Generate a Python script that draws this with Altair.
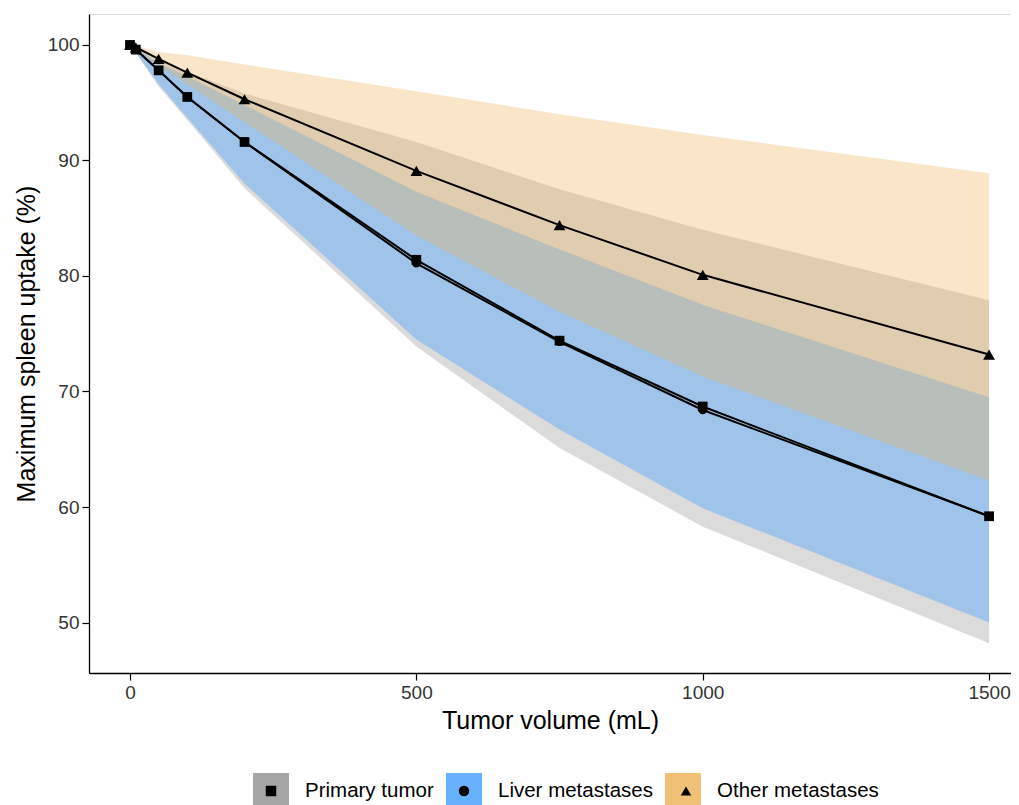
import altair as alt
import pandas as pd

groups = ["Primary tumor", "Liver metastases", "Other metastases"]
fill_colors = ["#909090", "#409FFF", "#ECB054"]
fill_opacity = [0.32, 0.38, 0.32]
shapes = ["square", "circle", "triangle-up"]
marker_sizes = [95, 72, 140]

volume = [0, 10, 50, 100, 200, 500, 750, 1000, 1500]
primary_mean = [100, 99.6, 97.8, 95.5, 91.6, 81.4, 74.4, 68.7, 59.2]
liver_mean = [100, 99.6, 97.8, 95.5, 91.6, 81.1, 74.3, 68.4, 59.2]
other_mean = [100, 99.8, 98.8, 97.6, 95.3, 89.1, 84.4, 80.1, 73.2]
primary_lo = [100, 99.3, 96.4, 93.5, 87.6, 73.9, 65.1, 58.3, 48.2]
primary_hi = [100, 99.8, 98.7, 97.7, 95.8, 91.6, 87.5, 84.0, 77.9]
liver_lo = [100, 99.4, 96.6, 93.7, 88.0, 74.5, 66.7, 59.9, 50.0]
liver_hi = [100, 99.8, 98.4, 97.3, 94.8, 87.3, 82.3, 77.5, 69.5]
other_lo = [100, 99.7, 98.2, 96.6, 93.3, 83.5, 76.9, 71.3, 62.3]
other_hi = [100, 99.95, 99.4, 99.1, 98.3, 96.0, 94.0, 92.2, 88.9]

means = [primary_mean, liver_mean, other_mean]
los = [primary_lo, liver_lo, other_lo]
his = [primary_hi, liver_hi, other_hi]

rows = []
for g, m, lo, hi in zip(groups, means, los, his):
    for v, a, b, c in zip(volume, m, lo, hi):
        rows.append({"group": g, "volume": v, "mean": a, "lo": b, "hi": c})
df = pd.DataFrame(rows)
pts = df[["group", "volume", "mean"]].copy()

FONT = "Liberation Sans"

xscale = alt.Scale(domain=[-71.6, 1538.3], nice=False, zero=False)
yscale = alt.Scale(domain=[45.63, 102.68], nice=False, zero=False)

xax = alt.Axis(values=[0, 500, 1000, 1500], format="d", title="Tumor volume (mL)", grid=False,
               domainColor="black", domainWidth=1.3, tickColor="black", tickWidth=1.2,
               tickSize=7, labelPadding=3, labelFontSize=19, labelColor="#333333",
               labelFont=FONT, titleFont=FONT, titleFontSize=25, titleFontWeight="normal",
               titleColor="black", titlePadding=6)
yax = alt.Axis(values=[50, 60, 70, 80, 90, 100], title="Maximum spleen uptake (%)", grid=False,
               domainColor="black", domainWidth=1.3, tickColor="black", tickWidth=1.2,
               tickSize=7, labelPadding=3, labelFontSize=19, labelColor="#333333",
               labelFont=FONT, titleFont=FONT, titleFontSize=25, titleFontWeight="normal",
               titleColor="black", titlePadding=8)

# legend placement (relative to the plot area's top-left corner)
LX, LY, PADC = 164, 759, 12
marker_legend_x = [171.75, 364.75, 586.75]
marker_legend_y = 766.75

fill_legend = alt.Legend(title=None, orient="none", direction="horizontal",
                         legendX=LX, legendY=LY, symbolType="square", symbolSize=1296,
                         symbolOpacity=0.8, symbolStrokeWidth=0, labelOffset=16,
                         labelFont=FONT, labelFontSize=20.5, labelColor="black",
                         labelLimit=400, columnPadding=PADC, padding=0)

fill_enc = alt.Fill("group:N", scale=alt.Scale(domain=groups, range=fill_colors),
                    legend=fill_legend)

areas = []
for g, op in zip(groups, fill_opacity):
    areas.append(
        alt.Chart(df).transform_filter(alt.datum.group == g)
        .mark_area(opacity=op, interpolate="linear")
        .encode(x=alt.X("volume:Q", scale=xscale, axis=xax),
                y=alt.Y("lo:Q", scale=yscale, axis=yax),
                y2="hi:Q",
                fill=fill_enc)
    )

lines = alt.Chart(pts).mark_line(color="black", strokeWidth=2).encode(
    x=alt.X("volume:Q", scale=xscale),
    y=alt.Y("mean:Q", scale=yscale),
    detail="group:N",
)

point_layers = []
for g, shp, sz, lx in zip(groups, shapes, marker_sizes, marker_legend_x):
    leg = alt.Legend(title=None, orient="none", direction="horizontal",
                     legendX=lx, legendY=marker_legend_y, symbolSize=110,
                     symbolFillColor="black", symbolStrokeWidth=0, symbolOpacity=1,
                     labelExpr="''", labelFontSize=20.5, padding=0)
    point_layers.append(
        alt.Chart(pts).transform_filter(alt.datum.group == g)
        .mark_point(filled=True, opacity=1, color="black", size=sz)
        .encode(x=alt.X("volume:Q", scale=xscale),
                y=alt.Y("mean:Q", scale=yscale),
                shape=alt.Shape("group:N", scale=alt.Scale(domain=[g], range=[shp]), legend=leg))
    )

chart = alt.layer(*areas, lines, *point_layers).resolve_scale(
    shape="independent"
).resolve_legend(shape="independent").properties(
    width=922, height=659,
    padding={"left": 81, "top": 6, "right": 0, "bottom": 137},
    autosize=alt.AutoSizeParams(type="none"),
).configure_view(stroke=None).configure(background="white")

chart.save("out.html", embed_options={"renderer": "svg", "actions": False})
